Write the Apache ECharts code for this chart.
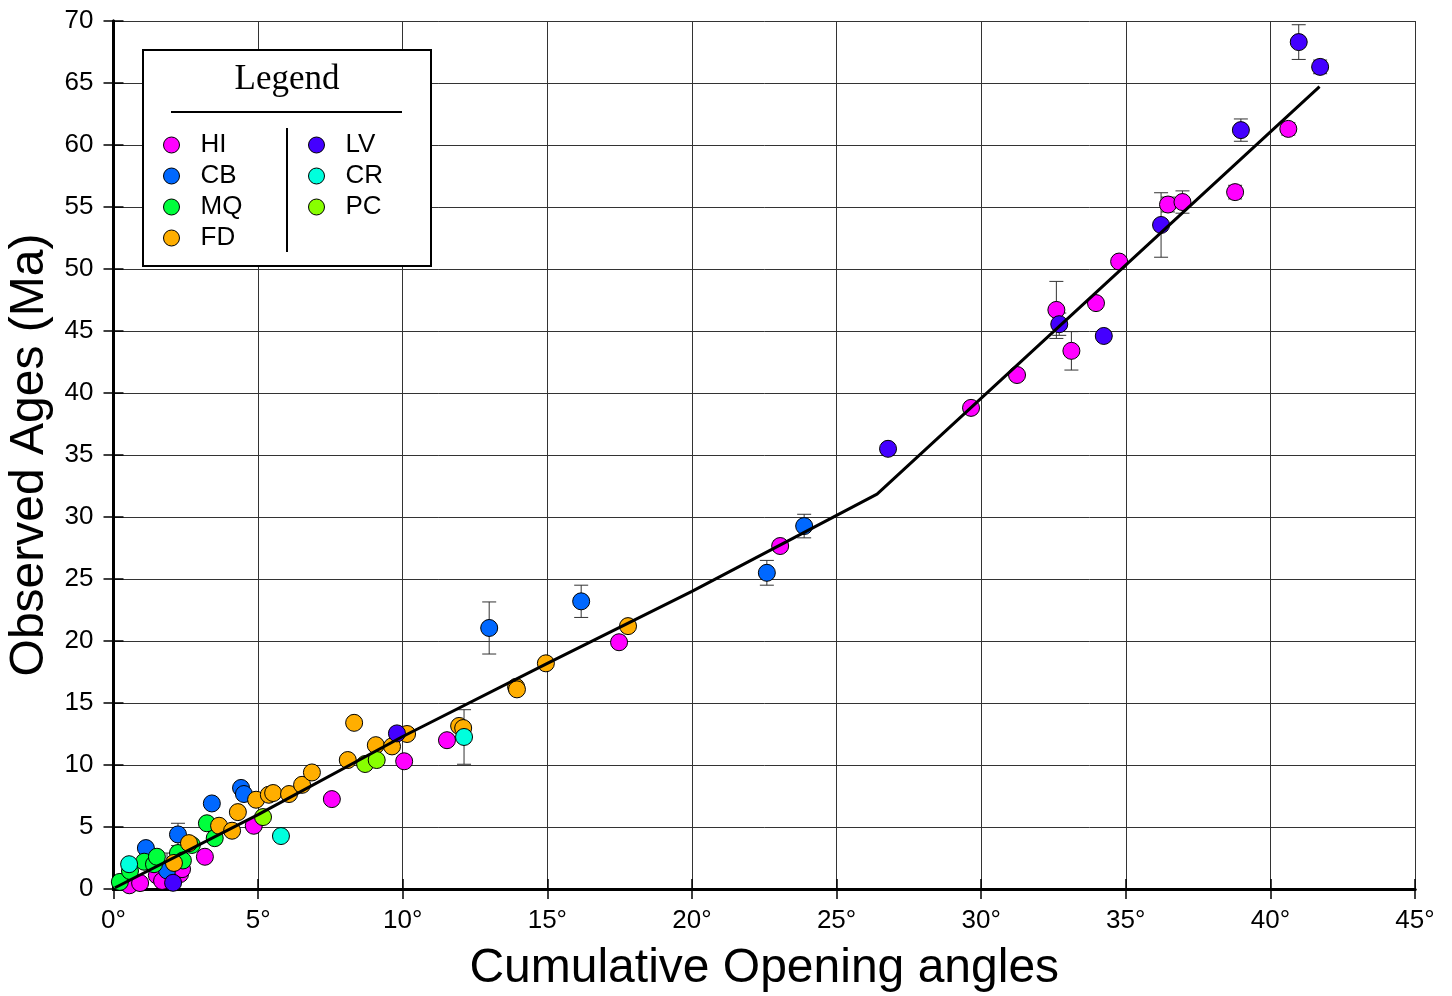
<!DOCTYPE html>
<html>
<head>
<meta charset="utf-8">
<script src="https://cdn.jsdelivr.net/npm/echarts@6/dist/echarts.min.js"></script>
<style>
  html, body { margin: 0; padding: 0; background: #fff; }
  #chart { width: 1452px; height: 996px; }
</style>
</head>
<body>
<div id="chart"></div>
<script>
// [opening angle (deg), observed age (Ma), error (Ma)]
var HI = [[0.55,0.3,0],[0.92,0.48,0],[1.5,1.1,0],[1.68,0.65,0],[2.3,1.2,0],[2.37,1.6,0],
  [3.16,2.6,0],[4.85,5.1,0],[7.55,7.25,0],[10.05,10.3,0],[11.53,12.0,0],[17.48,19.9,0],
  [23.05,27.66,0.4],[29.65,38.8,0],[31.24,41.45,0],[32.6,46.7,2.3],[33.12,43.4,1.55],
  [33.97,47.25,0],[34.77,50.6,0],[36.46,55.2,0.6],[36.96,55.4,0.9],[38.78,56.2,0.55],
  [40.62,61.3,0.5]];
var CB = [[1.12,3.3,0],[1.85,1.5,1.4],[2.23,4.4,0.9],[3.4,6.9,0],[4.41,8.15,0],[4.51,7.66,0],
  [12.99,21.05,2.1],[16.17,23.2,1.3],[22.59,25.5,1.0],[23.88,29.27,0.95]];
var MQ = [[0.22,0.57,0],[0.57,1.45,0],[1.06,2.2,0],[1.4,2.0,0],[1.5,2.6,0],[2.23,2.9,0],
  [2.4,2.3,0],[2.71,3.55,0],[3.23,5.3,0],[3.5,4.1,0]];
var FD = [[2.09,2.1,0],[2.61,3.7,0],[3.65,5.1,0],[4.1,4.7,0],[4.3,6.2,0],[4.93,7.2,0],
  [5.37,7.6,0],[5.52,7.74,0],[6.07,7.66,0],[6.52,8.4,0],[6.86,9.4,0],[8.1,10.4,0],
  [8.32,13.4,0],[9.07,11.6,0],[9.63,11.5,0],[10.15,12.5,0],[11.95,13.15,0],[12.09,12.98,0],
  [13.92,16.3,0],[13.95,16.1,0],[14.95,18.2,0],[17.79,21.2,0]];
var LV = [[2.06,0.5,0],[9.8,12.55,0],[26.78,35.5,0.4],[32.7,45.55,0.9],[34.24,44.6,0.3],
  [36.22,53.55,2.6],[38.98,61.2,0.9],[40.98,68.3,1.4],[41.72,66.3,0.55]];
var CR = [[0.54,2.0,0.3],[5.79,4.27,0],[12.12,12.26,2.2]];
var PC = [[5.17,5.8,0],[8.7,10.08,0],[9.1,10.4,0]];

// age model line
var MODEL = [[0.05,0.1],[5,6.0],[10,12.3],[15,18.2],[20,24.0],[26.4,31.85],[41.7,64.7]];

var GROUPS = [
  { name: 'HI', pts: HI, color: '#ff00ff' },
  { name: 'CB', pts: CB, color: '#0068ff' },
  { name: 'MQ', pts: MQ, color: '#00ff3c' },
  { name: 'FD', pts: FD, color: '#ffae00' },
  { name: 'LV', pts: LV, color: '#4400ff' },
  { name: 'CR', pts: CR, color: '#00ffdd' },
  { name: 'PC', pts: PC, color: '#88ff00' }
];

var FONT = 'Liberation Sans';

var chart = echarts.init(document.getElementById('chart'));

// error bars: [x, low, high]
var errData = [];
GROUPS.forEach(function (g) {
  g.pts.forEach(function (p) {
    if (p[2] > 0) errData.push([p[0], p[1] - p[2], p[1] + p[2]]);
  });
});

function errorBar(params, api) {
  var lo = api.coord([api.value(0), api.value(1)]);
  var hi = api.coord([api.value(0), api.value(2)]);
  var half = 7;
  var st = { stroke: '#333', lineWidth: 1 };
  return {
    type: 'group',
    children: [
      { type: 'line', shape: { x1: lo[0], y1: lo[1], x2: hi[0], y2: hi[1] }, style: st },
      { type: 'line', shape: { x1: lo[0] - half, y1: lo[1], x2: lo[0] + half, y2: lo[1] }, style: st },
      { type: 'line', shape: { x1: hi[0] - half, y1: hi[1], x2: hi[0] + half, y2: hi[1] }, style: st }
    ]
  };
}

var series = [{
  type: 'custom',
  renderItem: errorBar,
  data: errData,
  encode: { x: 0, y: [1, 2] },
  z: 1,
  silent: true
}];

GROUPS.forEach(function (g) {
  series.push({
    name: g.name,
    type: 'scatter',
    data: g.pts.map(function (p) { return [p[0], p[1]]; }),
    symbol: 'circle',
    symbolSize: 17,
    itemStyle: { color: g.color, borderColor: '#000', borderWidth: 1, opacity: 1 },
    z: 3
  });
});

series.push({
  type: 'line',
  data: MODEL,
  symbol: 'none',
  lineStyle: { color: '#000', width: 3 },
  z: 5,
  silent: true
});

var legendCommon = {
  orient: 'vertical',
  padding: 0,
  itemWidth: 48,
  itemHeight: 16,
  itemGap: 5,
  icon: 'circle',
  selectedMode: false,
  z: 60,
  itemStyle: { borderColor: '#000', borderWidth: 1 },
  textStyle: { fontSize: 26, fontFamily: FONT, color: '#000', lineHeight: 26 }
};

var axisLineStyle = { color: '#000', width: 3 };
var tickStyle = { show: true, inside: false, length: 10, lineStyle: { color: '#000', width: 1.5 } };

chart.setOption({
  animation: false,
  backgroundColor: '#fff',
  grid: { left: 113.5, right: 37, top: 21, bottom: 107, outerBoundsMode: 'none', containLabel: false },
  legend: [
    echarts.util.merge({ left: 163, top: 132, data: ['HI', 'CB', 'MQ', 'FD'] }, legendCommon, true),
    echarts.util.merge({ left: 308, top: 132, data: ['LV', 'CR', 'PC'] }, legendCommon, true)
  ],
  xAxis: [{
    type: 'value', min: 0, max: 45, interval: 5, position: 'bottom',
    name: 'Cumulative Opening angles', nameLocation: 'middle', nameGap: 56,
    nameTextStyle: { fontSize: 48, fontFamily: FONT, color: '#000' },
    axisLine: { show: true, lineStyle: axisLineStyle },
    axisTick: tickStyle,
    axisLabel: { formatter: '{value}°', fontSize: 26, fontFamily: FONT, color: '#000', margin: 19 },
    splitLine: { show: true, lineStyle: { color: '#333', width: 1 } }
  }, {
    type: 'value', min: 0, max: 45, interval: 5, position: 'top',
    axisLine: { show: true, lineStyle: axisLineStyle },
    axisTick: tickStyle,
    axisLabel: { show: false },
    splitLine: { show: false }
  }],
  yAxis: [{
    type: 'value', min: 0, max: 70, interval: 5, position: 'left',
    name: 'Observed Ages (Ma)', nameLocation: 'middle', nameGap: 58, nameRotate: 90,
    nameTextStyle: { fontSize: 48, fontFamily: FONT, color: '#000' },
    axisLine: { show: true, lineStyle: axisLineStyle },
    axisTick: tickStyle,
    axisLabel: { fontSize: 26, fontFamily: FONT, color: '#000', margin: 20 },
    splitLine: { show: true, lineStyle: { color: '#333', width: 1 } }
  }, {
    type: 'value', min: 0, max: 70, interval: 5, position: 'right',
    axisLine: { show: true, lineStyle: axisLineStyle },
    axisTick: tickStyle,
    axisLabel: { show: false },
    splitLine: { show: false }
  }],
  graphic: [
    { type: 'rect', z: 50, shape: { x: 143, y: 50, width: 288, height: 216 },
      style: { fill: '#fff', stroke: '#000', lineWidth: 2 } },
    { type: 'line', z: 55, shape: { x1: 171, y1: 112, x2: 402, y2: 112 },
      style: { stroke: '#000', lineWidth: 2 } },
    { type: 'line', z: 55, shape: { x1: 287, y1: 128, x2: 287, y2: 252 },
      style: { stroke: '#000', lineWidth: 2 } },
    { type: 'text', z: 55, x: 287, y: 80,
      style: { text: 'Legend', fill: '#000', font: '35px "Liberation Serif"',
        textAlign: 'center', textVerticalAlign: 'middle' } }
  ],
  series: series
});

window.addEventListener('resize', function () { chart.resize(); });
</script>
</body>
</html>
